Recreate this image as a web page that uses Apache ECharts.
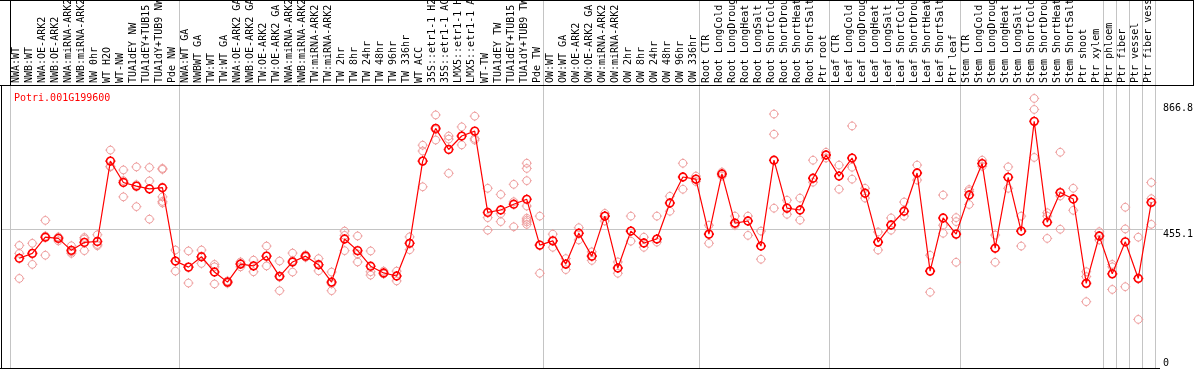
<!DOCTYPE html>
<html><head><meta charset="utf-8">
<script src="https://cdn.jsdelivr.net/npm/echarts@6/dist/echarts.min.js"></script>
<style>html,body{margin:0;padding:0;background:#fff}#c{width:1194px;height:370px}</style>
</head><body><div id="c"></div>
<script>
const geneTitle = 'Potri.001G199600';
const categories = [
 'NWA:WT','NWB:WT','NWA:OE-ARK2','NWB:OE-ARK2','NWA:miRNA-ARK2','NWB:miRNA-ARK2','NW 0hr','WT H2O','WT-NW','TUA1dEY NW','TUA1dEY+TUB15','TUA1dY+TUB9 NW','Pde NW',
 'NWA:WT GA','NWBWT GA','TW:WT','TW:WT GA','NWA:OE-ARK2 GA','NWB:OE-ARK2 GA','TW:OE-ARK2','TW:OE-ARK2 GA','NWA:miRNA-ARK2','NWB:miRNA-ARK2','TW:miRNA-ARK2','TW:miRNA-ARK2','TW 2hr','TW 8hr','TW 24hr','TW 48hr','TW 96hr','TW 336hr','WT ACC','35S::etr1-1 H2O','35S::etr1-1 ACC','LMX5::etr1-1 H2O','LMX5::etr1-1 ACC','WT-TW','TUA1dEY TW','TUA1dEY+TUB15','TUA1dY+TUB9 TW','Pde TW',
 'OW:WT','OW:WT GA','OW:OE-ARK2','OW:OE-ARK2 GA','OW:miRNA-ARK2','OW:miRNA-ARK2','OW 2hr','OW 8hr','OW 24hr','OW 48hr','OW 96hr','OW 336hr',
 'Root CTR','Root LongCold','Root LongDrought','Root LongHeat','Root LongSalt','Root ShortCold','Root ShortDrought','Root ShortHeat','Root ShortSalt','Ptr root',
 'Leaf CTR','Leaf LongCold','Leaf LongDrought','Leaf LongHeat','Leaf LongSalt','Leaf ShortCold','Leaf ShortDrought','Leaf ShortHeat','Leaf ShortSalt','Ptr leaf',
 'Stem CTR','Stem LongCold','Stem LongDrought','Stem LongHeat','Stem LongSalt','Stem ShortCold','Stem ShortDrought','Stem ShortHeat','Stem ShortSalt','Ptr shoot','Ptr xylem',
 'Ptr phloem','Ptr fiber','Ptr vessel','Ptr fiber vessel'
];
const means = [
 359,375,428,424,385,411,414,677,607,595,586,590,350,
 330,364,314,281,340,334,366,300,347,366,338,281,422,384,333,311,301,408,677,784,715,759,775,509,517,536,552,402,
 416,340,441,366,497,327,448,409,422,540,625,618,
 438,635,474,481,399,680,523,517,621,697,
 628,687,572,412,468,513,638,317,491,438,
 566,669,392,624,448,807,477,574,553,277,432,
 308,413,293,542
];
const replicates = [
 [401,375,293],[408,375,339],[483,432,369],[429,427,416],[400,380,375],[427,422,384],[436,404,400],[713,660,658],[648,613,560],[658,600,528],[656,612,487],[653,650,560,545,540],[386,350,317],
 [383,330,278],[386,364,342],[339,331,275],[285,281,277],[347,342,331],[353,334,315],[399,366,334],[350,297,253],[376,351,314],[370,366,362],[358,338,318],[314,276,253],[448,434,384],[432,373,347],[383,315,304],[317,308,308],[317,301,285],[429,408,387],[729,710,593],[828,780,746],[759,749,637],[789,759,730],[824,751,746],[588,492,451],[568,505,479],[601,544,462],[670,653,613,530,490,484,478,470],[497,402,310],
 [438,416,395],[358,340,322],[459,441,419],[380,366,352],[506,497,481],[347,327,310],[497,448,415],[428,409,395],[497,422,412],[562,540,513],[670,625,585],[628,618,610],
 [467,438,408],[641,635,628],[497,474,467],[497,481,434],[448,399,356],[831,765,523],[549,523,503],[556,517,484],[680,621,608],[706,697,687],
 [664,628,585],[792,657,618],[588,572,556],[445,412,386],[491,468,451],[543,513,497],[664,638,615],[369,317,248],[566,467,441],[492,479,346],
 [584,578,535],[680,669,660],[435,392,346],[658,624,588],[497,448,399],[882,846,689],[508,497,424],[706,563,454],[588,553,516],[315,299,217],[446,432,419],
 [339,331,257],[526,455,266],[428,293,159],[607,554,470]
];
const groupStarts = [0, 13, 41, 53, 63, 73, 84, 85, 86, 87];
const yLabelValues = [455.1, 866.8];
const yZeroValue = [0];
const refLineValue = 455.1;
const yMax = 926;

const FONT = 'DejaVu Sans Mono';
const GREY = '#c4c4c4';
const RED = '#ff0000';
const PINK = '#ee9a9a';
const SYM = 'path://M5,1.3C7.04,1.3 8.7,2.96 8.7,5C8.7,7.04 7.04,8.7 5,8.7C2.96,8.7 1.3,7.04 1.3,5C1.3,2.96 2.96,1.3 5,1.3Z M5,0.2L5,1.3 M5,8.7L5,9.8 M0.2,5L1.3,5 M8.7,5L9.8,5';

const repPoints = [];
replicates.forEach((arr, i) => arr.forEach(v => repPoints.push([i, v])));
const sepFn = (idx) => groupStarts.indexOf(idx) >= 0;

const chart = echarts.init(document.getElementById('c'), null, {renderer: 'canvas'});
chart.setOption({
  animation: false,
  backgroundColor: '#fff',
  title: {text: geneTitle, left: 9, top: 88, textStyle: {fontFamily: FONT, fontSize: 10, fontWeight: 'normal', color: RED}},
  grid: [
    {left: 10, right: 39, top: 85, bottom: 2, containLabel: false, outerBoundsMode: 'none'},
    {left: 12.8, right: 36.2, top: 85, bottom: 2, containLabel: false, outerBoundsMode: 'none'},
    {left: 10, right: 39, top: 0, height: 85, containLabel: false, outerBoundsMode: 'none'}
  ],
  xAxis: [
    {gridIndex: 0, type: 'category', data: categories, position: 'top', boundaryGap: true,
     axisLine: {show: false}, axisTick: {show: false},
     axisLabel: {interval: 0, rotate: 90, margin: 2, fontFamily: FONT, fontSize: 10, color: '#000'},
     splitLine: {show: true, interval: sepFn, lineStyle: {color: GREY, width: 1}}},
    {gridIndex: 1, type: 'category', data: categories, boundaryGap: true, show: false},
    {gridIndex: 2, type: 'category', data: categories, boundaryGap: true,
     axisLine: {show: false}, axisTick: {show: false}, axisLabel: {show: false},
     splitLine: {show: true, interval: sepFn, lineStyle: {color: GREY, width: 1}}}
  ],
  yAxis: [
    {gridIndex: 0, type: 'value', min: 0, max: yMax, position: 'right',
     axisLine: {show: false},
     axisTick: {show: true, customValues: [refLineValue], length: 8, lineStyle: {color: GREY}},
     axisLabel: {customValues: yLabelValues, verticalAlign: 'top', margin: 8, fontFamily: FONT, fontSize: 10, color: '#000', formatter: v => v.toFixed(1)},
     splitLine: {show: false}},
    {gridIndex: 0, type: 'value', min: 0, max: yMax, position: 'right',
     axisLine: {show: false}, axisTick: {show: false},
     axisLabel: {customValues: yZeroValue, verticalAlign: 'bottom', margin: 8, fontFamily: FONT, fontSize: 10, color: '#000'},
     splitLine: {show: false}},
    {gridIndex: 0, type: 'value', min: 0, max: yMax, position: 'left', offset: 8,
     axisLine: {show: false}, axisLabel: {show: false},
     axisTick: {show: true, inside: true, customValues: [refLineValue], length: 11, lineStyle: {color: GREY}},
     splitLine: {show: false}},
    {gridIndex: 1, type: 'value', min: 0, max: yMax, show: false},
    {gridIndex: 2, type: 'value', min: 0, max: 1, show: false}
  ],
  graphic: [
    {type: 'line', shape: {x1: 0, y1: 85.5, x2: 1194, y2: 85.5}, style: {stroke: '#000', lineWidth: 1}, z: 100},
    {type: 'line', shape: {x1: 0, y1: 0.5, x2: 1194, y2: 0.5}, style: {stroke: '#000', lineWidth: 1}, z: 100},
    {type: 'line', shape: {x1: 1193.5, y1: 0, x2: 1193.5, y2: 86}, style: {stroke: '#000', lineWidth: 1}, z: 100},
    {type: 'line', shape: {x1: 10.5, y1: 0, x2: 10.5, y2: 86}, style: {stroke: '#000', lineWidth: 1}, z: 100},
    {type: 'line', shape: {x1: 1.5, y1: 85, x2: 1.5, y2: 369}, style: {stroke: '#000', lineWidth: 1}, z: 100},
    {type: 'line', shape: {x1: 0, y1: 368.5, x2: 1160, y2: 368.5}, style: {stroke: '#000', lineWidth: 1}, z: 100}
  ],
  series: [
    {type: 'scatter', xAxisIndex: 1, yAxisIndex: 3, data: repPoints, symbol: SYM, symbolSize: 10,
     itemStyle: {color: 'rgba(0,0,0,0)', borderColor: PINK, borderWidth: 1, opacity: 1}, silent: true, z: 2,
     markLine: {silent: true, symbol: 'none', label: {show: false}, lineStyle: {color: GREY, type: 'solid', width: 1},
       data: [{yAxis: refLineValue}], z: 1}},
    {type: 'line', xAxisIndex: 1, yAxisIndex: 3, data: means, symbol: SYM, symbolSize: 10, showAllSymbol: true,
     lineStyle: {color: RED, width: 1.2}, itemStyle: {color: 'rgba(0,0,0,0)', borderColor: RED, borderWidth: 1.6},
     silent: true, z: 3}
  ]
});
</script></body></html>
